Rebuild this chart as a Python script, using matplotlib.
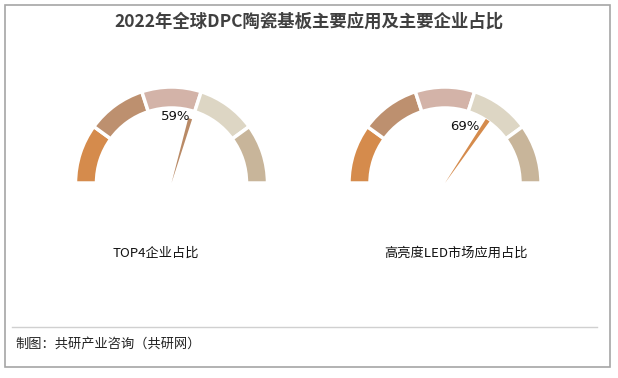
import matplotlib
matplotlib.use("Agg")
import matplotlib.pyplot as plt
from matplotlib.patches import Wedge, Polygon, Rectangle
import numpy as np

plt.rcParams["font.family"] = ["Noto Sans CJK SC", "DejaVu Sans"]

TITLE = "2022年全球DPC陶瓷基板主要应用及主要企业占比"
SOURCE = "制图：共研产业咨询（共研网）"
labels = ["TOP4企业占比", "高亮度LED市场应用占比"]
values = [59, 69]  # percent
seg_colors = ["#D58B4C", "#BD906F", "#D3B3A8", "#DDD6C4", "#C8B59A"]
needle_colors = ["#B98A66", "#D58B4C"]

# layout in pixel space (y up)
W, H = 618, 378
centers = [(171.5, H - 183), (445, H - 183)]
R_OUT, R_IN = 96, 75
needle_len = [67, 76]
text_pos = [(176, H - 116), (465, H - 127)]

fig = plt.figure(figsize=(W / 100, H / 100), dpi=100)
ax = fig.add_axes([0, 0, 1, 1])
ax.set_xlim(0, W)
ax.set_ylim(0, H)
ax.axis("off")

# frame + separator
ax.add_patch(Rectangle((5, H - 367), 605, 362, fill=False, ec="#A6A6A6", lw=1.2))
ax.plot([12, 597], [H - 327, H - 327], color="#D0D0D0", lw=1)

ax.text(W / 2, H - 22, TITLE, ha="center", va="center", fontsize=12.5,
        fontweight="bold", color="#404040")
ax.text(15, H - 344, SOURCE, ha="left", va="center", fontsize=9.5, color="#222222")

n = len(seg_colors)
for k, ((cx, cy), v, lab, nc) in enumerate(zip(centers, values, labels, needle_colors)):
    for i, c in enumerate(seg_colors):
        a1 = 180 - i * 180 / n
        a0 = 180 - (i + 1) * 180 / n
        ax.add_patch(Wedge((cx, cy), R_OUT, a0, a1, width=R_OUT - R_IN,
                           fc=c, ec="white", lw=2.5))
    ang = np.deg2rad(180 - v / 100 * 180)
    L = needle_len[k]
    d = np.deg2rad(1.7)
    pts = [(cx, cy),
           (cx + L * np.cos(ang - d), cy + L * np.sin(ang - d)),
           (cx + L * np.cos(ang + d), cy + L * np.sin(ang + d))]
    ax.add_patch(Polygon(pts, closed=True, fc=nc, ec="none"))
    tx, ty = text_pos[k]
    ax.text(tx, ty, f"{v}%", ha="center", va="center", fontsize=9.5,
            family="DejaVu Sans", color="#111111")
    ax.text(cx - 16 if k == 0 else cx + 11, H - 253, lab, ha="center",
            va="center", fontsize=9.5, color="#111111")

fig.savefig("out.png", dpi=100)
